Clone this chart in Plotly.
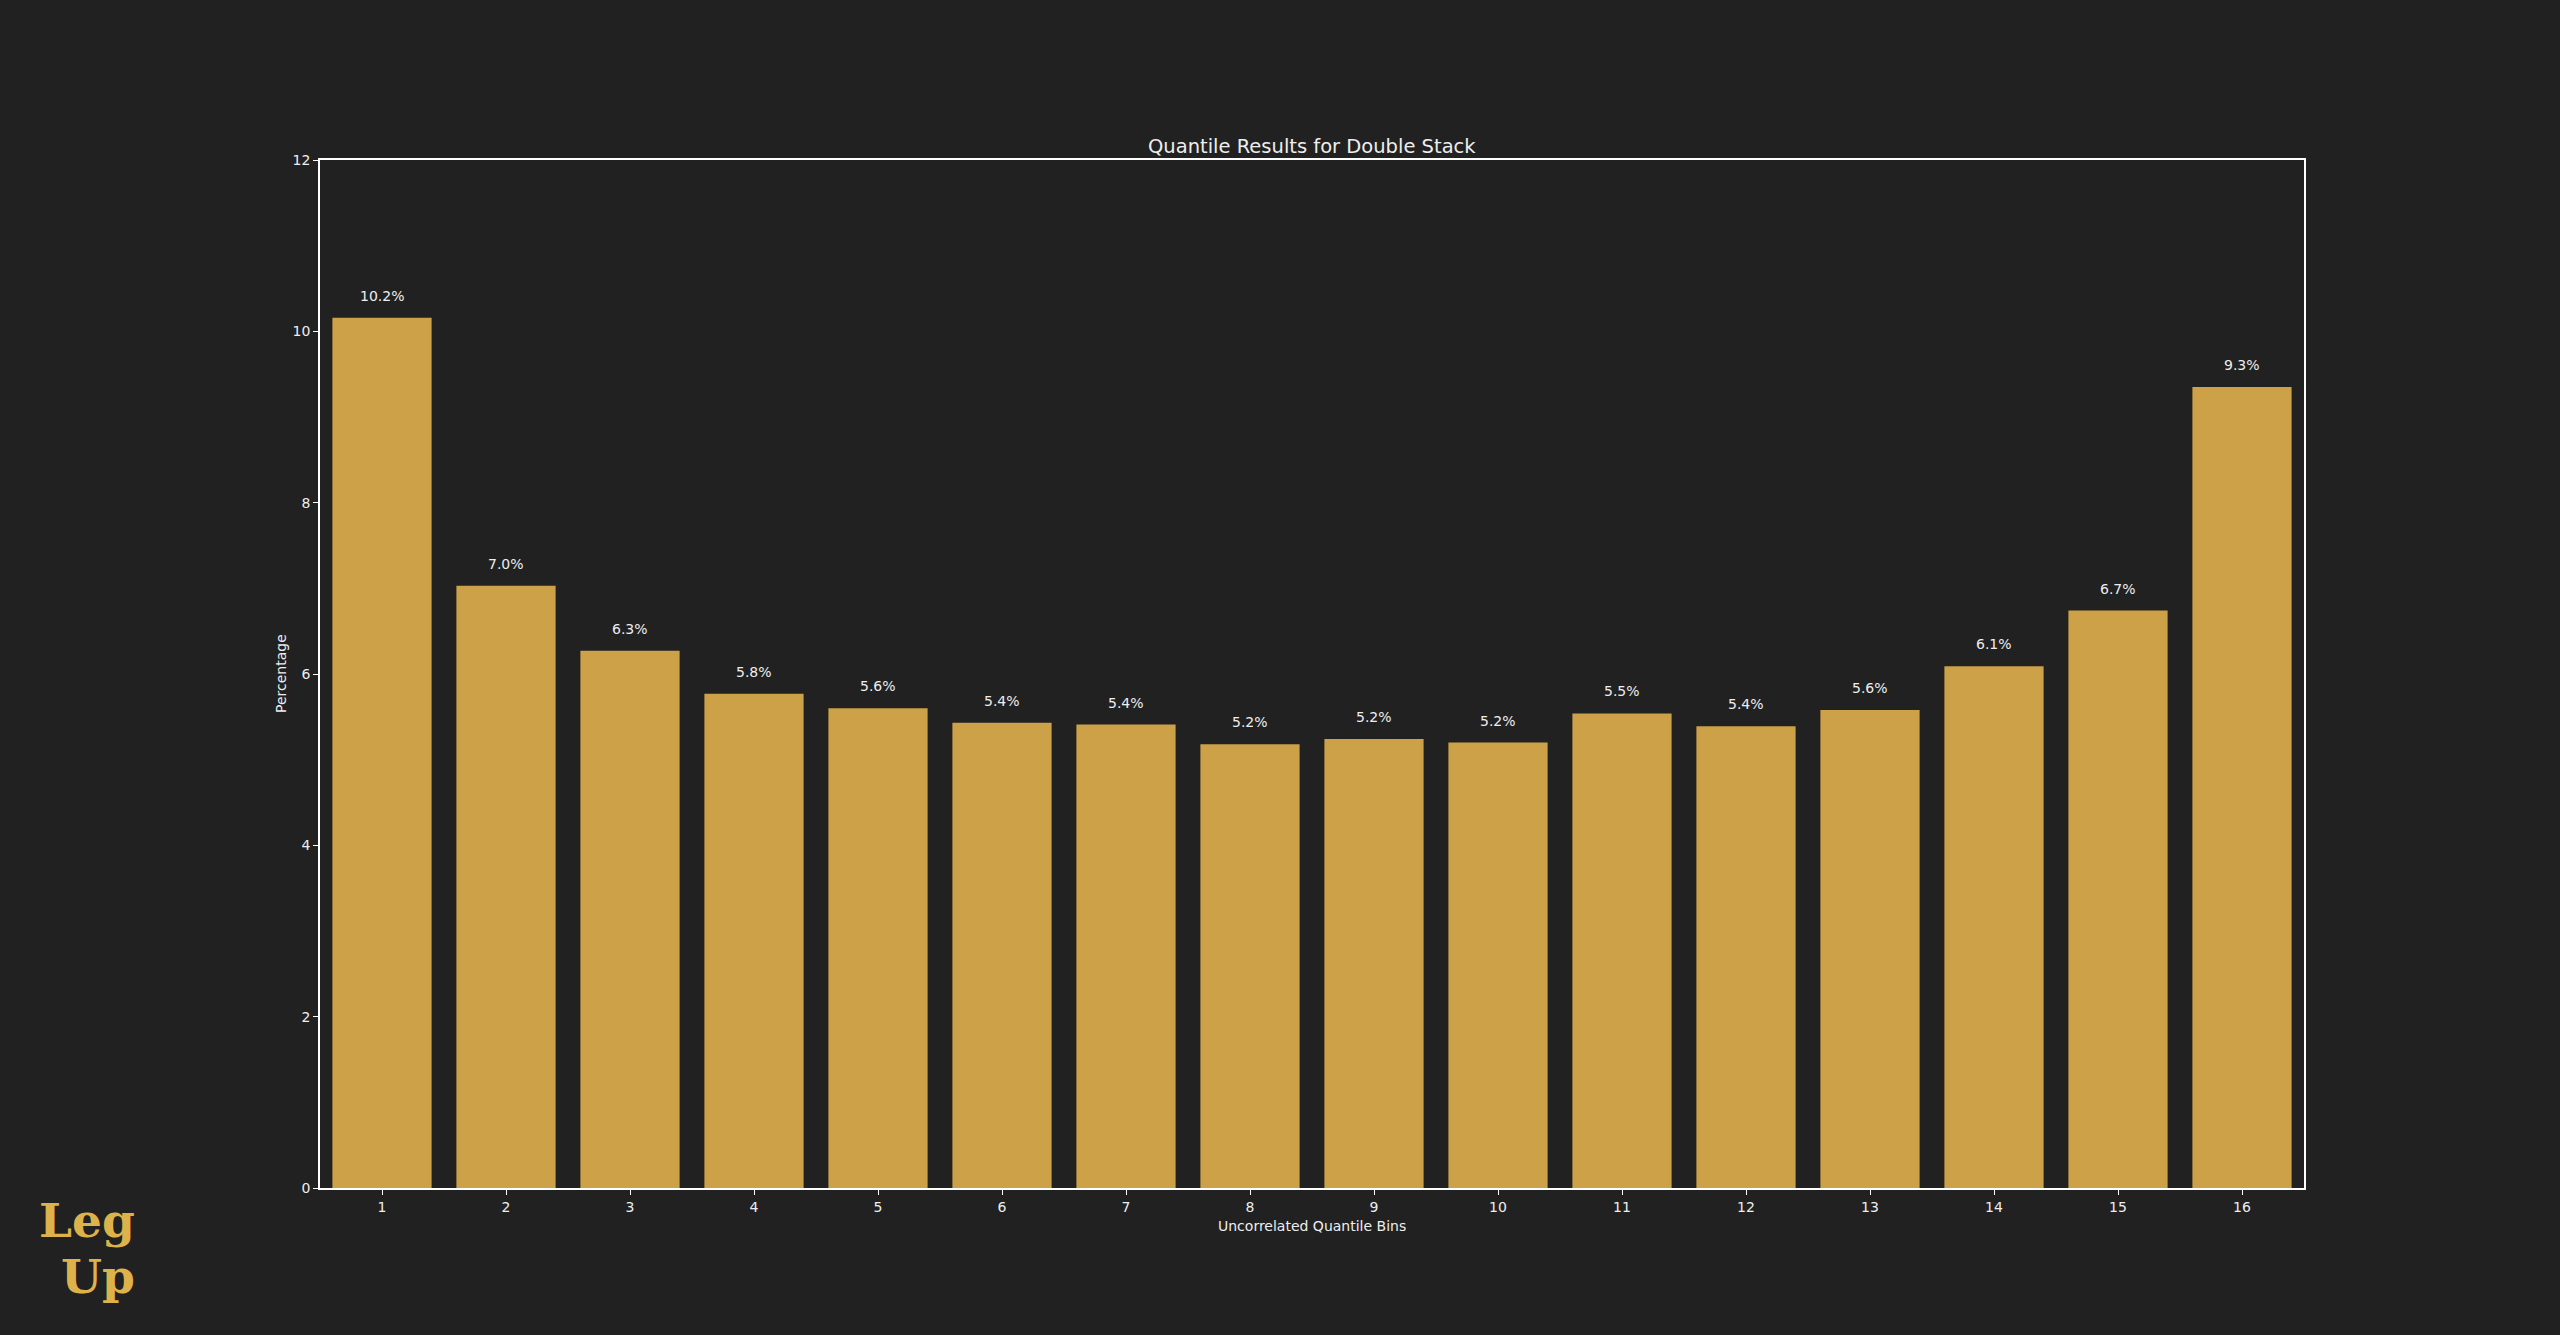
import plotly.graph_objects as go

bins = list(range(1, 17))
values = [10.16, 7.03, 6.27, 5.77, 5.60, 5.43, 5.41, 5.18, 5.24, 5.20, 5.54, 5.39, 5.58, 6.09, 6.74, 9.35]
y_ticks = [0, 2, 4, 6, 8, 10, 12]

BG = "#212121"
BAR = "#CDA147"
TXT = "#EEEEEE"
FONT = "DejaVu Sans"

fig = go.Figure()
fig.add_trace(go.Bar(x=bins, y=values, width=0.8, marker=dict(color=BAR, line=dict(width=0)),
                     hoverinfo="x+y"))

annotations = []
for b, v in zip(bins, values):
    annotations.append(dict(x=b, y=v, xref="x", yref="y", text=f"{v:.1f}%", showarrow=False,
                            yanchor="bottom", yshift=12, font=dict(family=FONT, size=14, color=TXT)))

# title and axis labels
annotations.append(dict(x=0.5, y=1, xref="paper", yref="paper", text="Quantile Results for Double Stack",
                        showarrow=False, xanchor="center", yanchor="bottom", yshift=0,
                        font=dict(family=FONT, size=19.5, color=TXT)))
annotations.append(dict(x=0.5, y=0, xref="paper", yref="paper", text="Uncorrelated Quantile Bins",
                        showarrow=False, xanchor="center", yanchor="middle", yshift=-38,
                        font=dict(family=FONT, size=14, color=TXT)))
annotations.append(dict(x=0, y=0.5, xref="paper", yref="paper", text="Percentage", textangle=-90,
                        showarrow=False, xanchor="center", yanchor="middle", xshift=-39,
                        font=dict(family=FONT, size=14, color=TXT)))

# logo (pixel positions converted to paper coordinates below)
logo = [dict(x=137, y=1220, text="<b>Leg</b>"), dict(x=137, y=1276, text="<b>Up</b>")]

pw, ph = 2560 - 320 - 256, 1335 - 160 - 147
for item in logo:
    annotations.append(dict(x=(item["x"] - 320) / pw, y=(1188 - item["y"]) / ph, xref="paper", yref="paper",
                            text=item["text"], showarrow=False, xanchor="right", yanchor="middle",
                            font=dict(family="DejaVu Serif", size=47, color="#DDB24A")))

fig.update_layout(
    width=2560, height=1335,
    paper_bgcolor=BG, plot_bgcolor=BG,
    margin=dict(l=320, r=256, t=160, b=147),
    showlegend=False,
    bargap=0.2,
    annotations=annotations,
    font=dict(family=FONT, size=14, color=TXT),
)

fig.update_xaxes(range=[0.5, 16.5], tickmode="array", tickvals=bins, ticktext=[str(b) for b in bins],
                 showline=True, linecolor="#FFFFFF", linewidth=1.5, mirror=True,
                 ticks="outside", ticklen=5, tickwidth=1.2, tickcolor="#FFFFFF",
                 showgrid=False, zeroline=False, tickfont=dict(family=FONT, size=14, color=TXT))
fig.update_yaxes(range=[0, 12], tickmode="array", tickvals=y_ticks, ticktext=[str(t) for t in y_ticks],
                 showline=True, linecolor="#FFFFFF", linewidth=1.5, mirror=True,
                 ticks="outside", ticklen=5, tickwidth=1.2, tickcolor="#FFFFFF",
                 showgrid=False, zeroline=False, tickfont=dict(family=FONT, size=14, color=TXT))

fig.write_html("out.html", config={"displayModeBar": False},
               post_script="document.body.style.margin='0';document.body.style.overflow='hidden';")
